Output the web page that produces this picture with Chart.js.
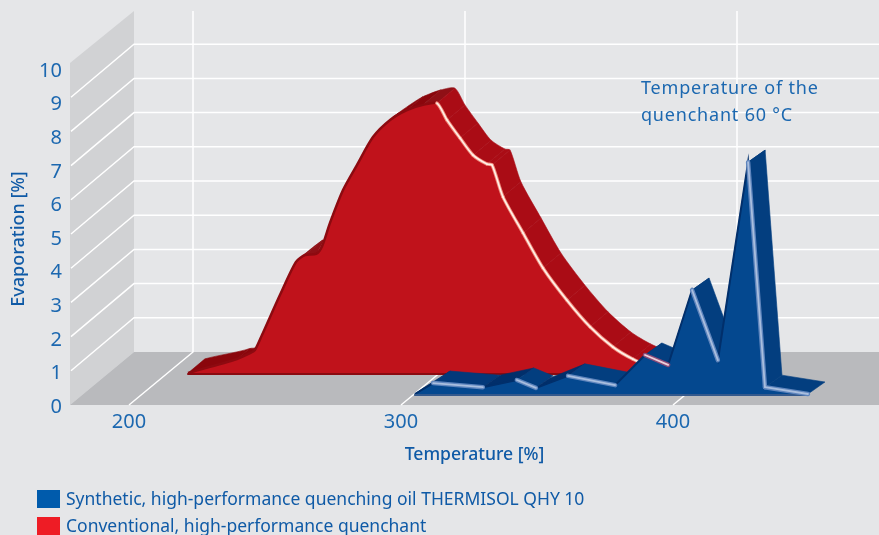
<!DOCTYPE html>
<html>
<head>
<meta charset="utf-8">
<style>
  html, body { margin: 0; padding: 0; background: #e5e6e8; }
  canvas { display: block; }
</style>
<script src="https://cdn.jsdelivr.net/npm/chart.js@4/dist/chart.umd.min.js"></script>
</head>
<body>
<canvas id="chart" width="879" height="535"></canvas>
<script>
// values
const redTemp = [207.5, 225.5, 230.3, 232.1, 234.7, 241.3, 247.2, 250.5, 254.6, 256.8, 259.7, 264.5, 269.6, 275.5, 281.8, 288, 293.9, 299, 302.7, 307.5, 312.3, 317.4, 319.3, 323.3, 330.7, 338, 346.8, 355.3, 363.7, 371, 382.8];
const redEvap = [0, 0.41, 0.58, 0.67, 1.11, 2.28, 3.25, 3.45, 3.48, 3.71, 4.39, 5.35, 6.08, 6.9, 7.4, 7.69, 7.84, 7.89, 7.4, 6.87, 6.37, 6.11, 6.08, 5.15, 4.09, 3.07, 2.13, 1.35, 0.76, 0.41, 0];
const blueTemp = [300, 306.7, 325, 337.5, 344.5, 356.3, 373.6, 384.6, 393.1, 401.9, 411.4, 422.5, 428.7, 444.5];
const blueEvap = [0, 0.32, 0.2, 0.41, 0.18, 0.53, 0.26, 1.14, 0.85, 3.04, 0.99, 6.78, 0.2, 0];
const tempTicks = [200, 300, 400];
const evapGrid = [1, 2, 3, 4, 5, 6, 7, 8, 9];
const seriesNames = ['Synthetic, high-performance quenching oil THERMISOL QHY 10', 'Conventional, high-performance quenchant'];
const noteLines = ['Temperature of the', 'quenchant 60 °C'];

const BLUE_TEXT = '#1c68b0';
const DARK_TEXT = '#0f5aa6';
const FONT = '"Noto Sans", "Open Sans", sans-serif';

// plot box in canvas pixels, the 3d planes are only shifted copies of the axes
const LEFT = 70, RIGHT = 879, TOP = 71, BOTTOM = 407;
const PX_PER_TEMP = 2.72, PX_PER_EVAP = 34.2;
const X200 = 129;
const DEPTH_X = 64, DEPTH_Y = 53;

function planeX(shift) {
  return {
    type: 'linear', axis: 'x', display: false,
    min: 200 + (LEFT - X200 - shift) / PX_PER_TEMP,
    max: 200 + (RIGHT - X200 - shift) / PX_PER_TEMP
  };
}
function planeY(base) {
  return {
    type: 'linear', axis: 'y', display: false,
    min: (base - BOTTOM) / PX_PER_EVAP,
    max: (base - TOP) / PX_PER_EVAP
  };
}
const toXY = (xs, ys) => xs.map((x, i) => ({ x: x, y: ys[i] }));

// how much of the slab depth shows behind a rising edge
function riseDepth(a, b) {
  const slope = (a.y - b.y) / (b.x - a.x);
  if (slope <= 0) return 1;
  return Math.min(1, Math.max(0.12, 1.4 - 1.6 * slope));
}

const depth3d = {
  id: 'depth3d',
  beforeDatasetsDraw(chart) {
    const ctx = chart.ctx, s = chart.scales;
    const y0 = s.yWall.getPixelForValue(0), yTop = s.yWall.getPixelForValue(10);
    ctx.save();
    ctx.fillStyle = '#d1d2d4';
    poly(ctx, [[LEFT, y0], [LEFT, yTop], [LEFT + DEPTH_X, yTop - DEPTH_Y + 1], [LEFT + DEPTH_X, y0 - DEPTH_Y]]);
    ctx.fillStyle = '#b9babd';
    poly(ctx, [[LEFT, y0], [RIGHT, y0], [RIGHT, y0 - DEPTH_Y], [LEFT + DEPTH_X, y0 - DEPTH_Y]]);
    ctx.strokeStyle = '#ffffff';
    ctx.lineWidth = 1.5;
    evapGrid.forEach(v => {
      const y = s.yWall.getPixelForValue(v);
      line(ctx, [[LEFT + 1, y], [LEFT + DEPTH_X, y - DEPTH_Y], [RIGHT, y - DEPTH_Y]]);
    });
    tempTicks.forEach(t => {
      const x = s.x.getPixelForValue(t);
      line(ctx, [[x, y0], [x + DEPTH_X, y0 - DEPTH_Y], [x + DEPTH_X, yTop - DEPTH_Y + 1]]);
    });
    ctx.restore();
  },
  beforeDatasetDraw(chart, args) {
    const ds = chart.data.datasets[args.index];
    const pts = args.meta.data;
    const ctx = chart.ctx;
    const ex = ds.extrude[0], ey = ds.extrude[1];
    ctx.save();
    for (let i = 0; i < pts.length - 1; i++) {
      const a = pts[i], b = pts[i + 1];
      const falling = b.y > a.y;
      let k0 = 1, k1 = 1;
      if (!falling) {
        k0 = riseDepth(a, b);
        if (i + 2 < pts.length) k1 = riseDepth(b, pts[i + 2]);
      }
      const slope = (b.y - a.y) / (b.x - a.x);
      ctx.fillStyle = slope < -0.15 ? ds.sideUp : (slope > 0.15 ? ds.sideDown : ds.sideFlat);
      ctx.strokeStyle = ctx.fillStyle;
      ctx.lineWidth = 0.6;
      ctx.beginPath();
      ctx.moveTo(a.x, a.y);
      curveTo(ctx, a, b);
      ctx.lineTo(b.x + ex * k1, b.y - ey * k1);
      curveBack(ctx, a, b, ex * k0, ey * k0, ex * k1, ey * k1);
      ctx.closePath();
      ctx.fill();
      ctx.stroke();
    }
    // the filler plugin already ran for this dataset, put the front face back over the sides
    const base = chart.scales[ds.yAxisID].getPixelForValue(0);
    ctx.fillStyle = ds.backgroundColor;
    ctx.beginPath();
    ctx.moveTo(pts[0].x, base);
    ctx.lineTo(pts[0].x, pts[0].y);
    for (let i = 0; i < pts.length - 1; i++) curveTo(ctx, pts[i], pts[i + 1]);
    ctx.lineTo(pts[pts.length - 1].x, base);
    ctx.closePath();
    ctx.fill();
    ctx.restore();
  },
  afterDatasetDraw(chart, args) {
    const ds = chart.data.datasets[args.index];
    const pts = args.meta.data;
    const ctx = chart.ctx;
    ctx.save();
    ctx.lineCap = 'round';
    // base edge of the slab
    ctx.strokeStyle = ds.baseEdge;
    ctx.lineWidth = 2;
    line(ctx, [[pts[0].x, pts[0].y + 1], [pts[pts.length - 1].x, pts[pts.length - 1].y + 1]]);
    // bright rim on the falling flanks
    [0, 1].forEach(pass => {
      ctx.lineWidth = ds.rimWidths[pass];
      for (let i = 0; i < pts.length - 1; i++) {
        const a = pts[i], b = pts[i + 1];
        if (b.y <= a.y + 1) continue;
        const tint = ds.rimTint && ds.rimTint[i];
        ctx.strokeStyle = tint ? tint[pass] : ds.rimColors[pass];
        ctx.beginPath();
        ctx.moveTo(a.x, a.y);
        curveTo(ctx, a, b);
        ctx.stroke();
      }
    });
    ctx.restore();
  },
  afterDraw(chart) {
    const ctx = chart.ctx;
    ctx.save();
    ctx.textBaseline = 'alphabetic';
    ctx.textAlign = 'left';
    ctx.fillStyle = BLUE_TEXT;
    ctx.font = '18px ' + FONT;
    ctx.letterSpacing = '0.8px';
    ctx.fillText(noteLines[0], 641, 94);
    ctx.fillText(noteLines[1], 641, 121);
    ctx.letterSpacing = '0px';
    ctx.font = '17.5px ' + FONT;
    const rowY = [490, 517];
    const swatch = ['#005bac', '#ee1c25'];
    seriesNames.forEach((name, i) => {
      ctx.fillStyle = swatch[i];
      ctx.fillRect(37, rowY[i], 23, 18);
      ctx.fillStyle = DARK_TEXT;
      ctx.fillText(name, 66, rowY[i] + 15);
    });
    ctx.restore();
  }
};

function curveTo(ctx, a, b) {
  if (a.cp2x === undefined) { ctx.lineTo(b.x, b.y); return; }
  ctx.bezierCurveTo(a.cp2x, a.cp2y, b.cp1x, b.cp1y, b.x, b.y);
}
function curveBack(ctx, a, b, ax, ay, bx, by) {
  if (a.cp2x === undefined) { ctx.lineTo(a.x + ax, a.y - ay); return; }
  ctx.bezierCurveTo(b.cp1x + bx, b.cp1y - by, a.cp2x + ax, a.cp2y - ay, a.x + ax, a.y - ay);
}
function poly(ctx, p) {
  ctx.beginPath();
  p.forEach((q, i) => i ? ctx.lineTo(q[0], q[1]) : ctx.moveTo(q[0], q[1]));
  ctx.closePath();
  ctx.fill();
}
function line(ctx, p) {
  ctx.beginPath();
  p.forEach((q, i) => i ? ctx.lineTo(q[0], q[1]) : ctx.moveTo(q[0], q[1]));
  ctx.stroke();
}

new Chart(document.getElementById('chart'), {
  type: 'line',
  data: {
    datasets: [
      {
        label: seriesNames[1],
        data: toXY(redTemp, redEvap),
        xAxisID: 'xRed', yAxisID: 'yRed',
        order: 2,
        fill: { value: 0 },
        tension: 0.25,
        backgroundColor: '#c0121b',
        borderColor: '#8d0a10',
        borderWidth: 2.5,
        pointRadius: 0,
        extrude: [18, 15],
        sideUp: '#8a060c', sideDown: '#aa0c15', sideFlat: '#8f1016',
        baseEdge: '#8a0a10',
        rimColors: ['#f0897c', '#fff2e8'], rimWidths: [3.5, 1.6]
      },
      {
        label: seriesNames[0],
        data: toXY(blueTemp, blueEvap),
        xAxisID: 'xBlue', yAxisID: 'yBlue',
        order: 1,
        fill: { value: 0 },
        backgroundColor: '#04488f',
        borderColor: '#012f6b',
        borderWidth: 2,
        pointRadius: 0,
        extrude: [17, 12],
        sideUp: '#012f6b', sideDown: '#033e7f', sideFlat: '#03397a',
        baseEdge: '#34598c',
        rimColors: ['#5f85bd', '#a9bede'], rimWidths: [4.5, 1.8],
        rimTint: { 7: ['#8a4a78', '#ecd0da'] }
      }
    ]
  },
  options: {
    responsive: false,
    animation: false,
    layout: { padding: { top: TOP, bottom: 70, left: 0, right: 0 } },
    plugins: { legend: { display: false }, tooltip: { enabled: false } },
    scales: {
      x: {
        type: 'linear',
        min: planeX(0).min, max: planeX(0).max,
        afterBuildTicks: s => { s.ticks = tempTicks.map(v => ({ value: v })); },
        afterFit: s => { s.height = 535 - 70 - BOTTOM; },
        grid: { display: false, drawTicks: false }, border: { display: false },
        ticks: {
          autoSkip: false, maxRotation: 0, padding: 3,
          color: BLUE_TEXT, font: { family: FONT, size: 20 },
          callback: v => String(v)
        },
        title: { display: true, text: 'Temperature [%]', color: DARK_TEXT, font: { family: FONT, size: 17.6, weight: '500' }, padding: { top: 0, bottom: -1 } }
      },
      y: {
        type: 'linear',
        min: 0, max: 10,
        afterFit: s => { s.width = LEFT; },
        grid: { display: false, drawTicks: false }, border: { display: false },
        ticks: {
          stepSize: 1, padding: 8,
          color: BLUE_TEXT, font: { family: FONT, size: 20 }
        },
        title: { display: true, text: 'Evaporation [%]', color: DARK_TEXT, font: { family: FONT, size: 18, weight: '500' }, padding: { top: 8, bottom: 0 } }
      },
      xRed: planeX(38.6),
      yRed: planeY(373),
      xBlue: planeX(13.9),
      yBlue: planeY(394),
      yWall: planeY(405)
    }
  },
  plugins: [depth3d]
});
</script>
</body>
</html>
